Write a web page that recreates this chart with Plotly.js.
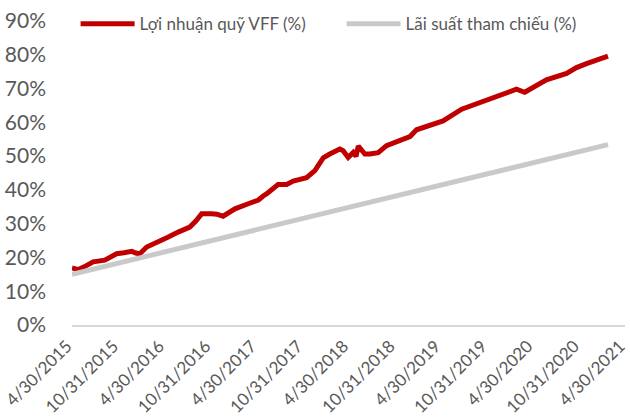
<!DOCTYPE html>
<html>
<head>
<meta charset="utf-8">
<script src="https://cdn.plot.ly/plotly-3.0.1.min.js"></script>
<style>html,body{margin:0;padding:0;background:#fff;}#chart{width:630px;height:417px;}</style>
</head>
<body>
<div id="chart"></div>
<script>
// Fund return (VFF) readings, %
const vffDates = ["2015-04-30","2015-05-25","2015-06-24","2015-07-23","2015-09-07","2015-10-24","2015-11-22","2015-12-23","2016-01-08","2016-01-24","2016-02-20","2016-04-06","2016-05-14","2016-06-24","2016-08-09","2016-09-02","2016-09-25","2016-11-03","2016-11-24","2016-12-19","2017-02-04","2017-03-29","2017-05-08","2017-05-27","2017-06-09","2017-07-25","2017-08-28","2017-09-23","2017-11-15","2017-12-18","2018-01-20","2018-02-15","2018-03-27","2018-04-09","2018-04-29","2018-05-19","2018-05-30","2018-06-08","2018-07-04","2018-07-24","2018-08-26","2018-09-28","2018-11-07","2018-12-30","2019-01-25","2019-03-19","2019-05-10","2019-07-23","2019-09-20","2019-12-08","2020-02-25","2020-03-29","2020-05-01","2020-06-23","2020-09-11","2020-10-20","2020-11-29","2021-02-22"];
const vffValues = [16.9,16.4,17.5,18.7,19.2,21.1,21.4,21.8,21.3,21.1,23.1,24.9,26.0,27.5,29.0,30.8,32.9,32.9,32.8,32.2,34.4,35.9,37.0,38.2,38.8,41.6,41.6,42.6,43.6,45.7,49.5,50.6,52.1,51.6,49.6,51.1,49.9,53.0,50.6,50.6,51.0,53.1,54.1,55.8,57.8,59.0,60.4,63.9,65.4,67.8,69.8,68.9,70.4,72.6,74.5,76.2,77.4,79.6];
// Reference rate readings, %
const refDates = ["2015-04-30","2015-10-31","2016-04-30","2016-10-31","2017-04-30","2017-10-31","2018-04-30","2018-10-31","2019-04-30","2019-10-31","2020-04-30","2020-10-31","2021-02-22"];
const refValues = [15.0,18.3,21.6,24.9,28.2,31.6,34.9,38.1,41.4,44.6,47.9,51.1,53.4];
// Axis ticks
const xTickVals = ["2015-04-30","2015-10-31","2016-04-30","2016-10-31","2017-04-30","2017-10-31","2018-04-30","2018-10-31","2019-04-30","2019-10-31","2020-04-30","2020-10-31","2021-04-30"];
const xTickText = ["4/30/2015","10/31/2015","4/30/2016","10/31/2016","4/30/2017","10/31/2017","4/30/2018","10/31/2018","4/30/2019","10/31/2019","4/30/2020","10/31/2020","4/30/2021"];
const yTickVals = [0,10,20,30,40,50,60,70,80,90];
const yTickText = ["0%","10%","20%","30%","40%","50%","60%","70%","80%","90%"];
const seriesNames = ["Lợi nhuận quỹ VFF (%)","Lãi suất tham chiếu (%)"];

const FONT = "Lato, 'Noto Sans', sans-serif";
const traces = [
  {x: vffDates, y: vffValues, name: seriesNames[0], type: "scatter", mode: "lines",
   line: {color: "#C00000", width: 5}},
  {x: refDates, y: refValues, name: seriesNames[1], type: "scatter", mode: "lines",
   line: {color: "#C9C9C9", width: 5}}
];
const layout = {
  width: 630, height: 417,
  margin: {l: 72, r: 5, t: 21, b: 92, autoexpand: false},
  paper_bgcolor: "#fff", plot_bgcolor: "#fff",
  font: {family: FONT, color: "#595959", size: 18},
  showlegend: true,
  legend: {orientation: "h", xref: "container", yref: "container", x: 0.12, y: 0.985,
           xanchor: "left", yanchor: "top", font: {size: 17, color: "#595959"},
           itemwidth: 54, entrywidth: 197, bgcolor: "rgba(0,0,0,0)"},
  xaxis: {type: "date", range: ["2015-04-30","2021-04-30 12:00"], tickmode: "array",
          tickvals: xTickVals, ticktext: xTickText, tickangle: -45, ticklabeloverflow: "allow",
          ticklabelshift: -5, ticklabelstandoff: 3,
          showgrid: false, zeroline: false, showline: true, linecolor: "#D9D9D9", linewidth: 1.5,
          ticks: "", tickfont: {size: 17}},
  yaxis: {range: [0, 90], tickmode: "array", tickvals: yTickVals, ticktext: yTickText,
          showgrid: false, zeroline: false, showline: false, ticks: "",
          ticklabelstandoff: 25, tickfont: {size: 21}}
};
Plotly.newPlot("chart", traces, layout, {staticPlot: true, displayModeBar: false});
</script>
</body>
</html>
